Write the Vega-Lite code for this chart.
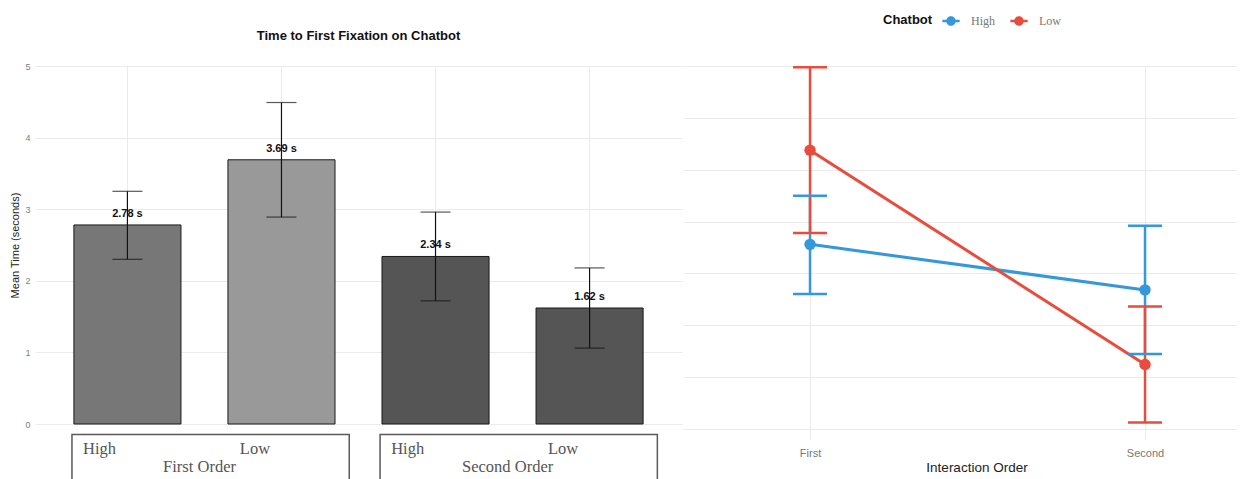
{
  "$schema": "https://vega.github.io/schema/vega-lite/v6.json",
  "background": "white",
  "padding": {"left": 9, "top": 12, "right": 0, "bottom": 0},
  "autosize": {"type": "pad"},
  "config": {
    "view": {"stroke": null},
    "font": "Liberation Sans",
    "axis": {"gridColor": "#ebebeb", "gridWidth": 1}
  },
  "datasets": {
    "fix": [
      {"order": "First", "chatbot": "High", "group": "First High", "mean": 2.78, "lower": 2.30, "upper": 3.25, "label": "2.78 s"},
      {"order": "First", "chatbot": "Low", "group": "First Low", "mean": 3.69, "lower": 2.89, "upper": 4.49, "label": "3.69 s"},
      {"order": "Second", "chatbot": "High", "group": "Second High", "mean": 2.34, "lower": 1.72, "upper": 2.96, "label": "2.34 s"},
      {"order": "Second", "chatbot": "Low", "group": "Second Low", "mean": 1.62, "lower": 1.06, "upper": 2.18, "label": "1.62 s"}
    ],
    "strip": [
      {"order": "First", "heading": "First Order"},
      {"order": "Second", "heading": "Second Order"}
    ]
  },
  "spacing": 1,
  "resolve": {"scale": {"x": "independent", "y": "independent", "color": "independent", "fill": "independent"}},
  "hconcat": [
    {
      "spacing": 4,
      "resolve": {"scale": {"x": "independent", "y": "independent"}},
      "vconcat": [
        {
          "width": 647,
          "height": 358,
          "title": {"text": "Time to First Fixation on Chatbot", "fontSize": 13, "fontWeight": "bold", "color": "#111111", "offset": 19, "anchor": "middle"},
          "data": {"name": "fix"},
          "encoding": {
            "x": {
              "field": "group", "type": "nominal",
              "sort": ["First High", "First Low", "Second High", "Second Low"],
              "scale": {"paddingInner": 0.305, "paddingOuter": 0.2525},
              "axis": {"labels": false, "ticks": false, "domain": false, "title": null, "grid": true}
            }
          },
          "layer": [
            {
              "mark": {"type": "bar", "stroke": "#1a1a1a", "strokeWidth": 1},
              "encoding": {
                "y": {
                  "field": "mean", "type": "quantitative", "title": "Mean Time (seconds)",
                  "scale": {"domain": [0, 5], "nice": false},
                  "axis": {
                    "values": [0, 0.5, 1, 1.5, 2, 2.5, 3, 3.5, 4, 4.5, 5],
                    "labelExpr": "datum.value % 1 === 0 ? format(datum.value, 'd') : ''",
                    "ticks": false, "domain": false, "grid": true,
                    "labelFontSize": 9, "labelColor": "#808080", "labelPadding": 5,
                    "titleFontSize": 11, "titleFontWeight": "normal", "titleColor": "#222222", "titlePadding": 4
                  }
                },
                "fill": {
                  "field": "group", "type": "nominal",
                  "scale": {"domain": ["First High", "First Low", "Second High", "Second Low"], "range": ["#777777", "#999999", "#555555", "#555555"]},
                  "legend": null
                }
              }
            },
            {
              "mark": {"type": "rule", "color": "#111111", "strokeWidth": 1.2},
              "encoding": {
                "y": {"field": "lower", "type": "quantitative", "title": "Mean Time (seconds)"},
                "y2": {"field": "upper"}
              }
            },
            {
              "mark": {"type": "tick", "color": "#111111", "thickness": 1.2, "size": 30, "orient": "horizontal"},
              "encoding": {"y": {"field": "upper", "type": "quantitative", "title": "Mean Time (seconds)"}}
            },
            {
              "mark": {"type": "tick", "color": "#111111", "thickness": 1.2, "size": 30, "orient": "horizontal"},
              "encoding": {"y": {"field": "lower", "type": "quantitative", "title": "Mean Time (seconds)"}}
            },
            {
              "mark": {"type": "text", "fontWeight": "bold", "fontSize": 11, "dy": -8, "baseline": "alphabetic", "color": "#111111"},
              "encoding": {
                "y": {"field": "mean", "type": "quantitative", "title": "Mean Time (seconds)"},
                "text": {"field": "label"}
              }
            }
          ]
        },
        {
          "width": 647,
          "height": 47,
          "encoding": {
            "x": {
              "field": "order", "type": "nominal",
              "scale": {"domain": ["First", "Second"], "paddingInner": 0.1, "paddingOuter": 0.1, "align": 0.6},
              "axis": null
            }
          },
          "layer": [
            {
              "data": {"name": "strip"},
              "mark": {"type": "bar", "fill": "white", "stroke": "#5a5a5a", "strokeWidth": 1.5, "clip": true},
              "encoding": {
                "y": {"datum": 0.97, "type": "quantitative", "scale": {"domain": [0, 1], "nice": false, "zero": false}, "axis": null},
                "y2": {"datum": -1}
              }
            },
            {
              "data": {"name": "fix"},
              "transform": [{"filter": "datum.chatbot === 'High'"}],
              "mark": {"type": "text", "align": "left", "baseline": "middle", "font": "Liberation Serif", "fontSize": 16.5, "color": "#555555"},
              "encoding": {
                "x": {"field": "order", "type": "nominal", "bandPosition": 0.04},
                "y": {"datum": 0.66, "type": "quantitative"},
                "text": {"field": "chatbot"}
              }
            },
            {
              "data": {"name": "fix"},
              "transform": [{"filter": "datum.chatbot === 'Low'"}],
              "mark": {"type": "text", "align": "center", "baseline": "middle", "font": "Liberation Serif", "fontSize": 16.5, "color": "#555555"},
              "encoding": {
                "x": {"field": "order", "type": "nominal", "bandPosition": 0.66},
                "y": {"datum": 0.66, "type": "quantitative"},
                "text": {"field": "chatbot"}
              }
            },
            {
              "data": {"name": "strip"},
              "mark": {"type": "text", "align": "center", "baseline": "middle", "font": "Liberation Serif", "fontSize": 16.5, "color": "#555555"},
              "encoding": {
                "x": {"field": "order", "type": "nominal", "bandPosition": 0.46},
                "y": {"datum": 0.277, "type": "quantitative"},
                "text": {"field": "heading"}
              }
            }
          ]
        }
      ]
    },
    {
      "width": 554,
      "height": 374,
      "data": {"name": "fix"},
      "encoding": {
        "x": {
          "field": "order", "type": "nominal", "title": "Interaction Order",
          "scale": {"type": "point", "domain": ["First", "Second"], "padding": 0.3269, "align": 0.58},
          "axis": {
            "labelAngle": 0, "ticks": false, "domain": false, "grid": true,
            "labelFontSize": 11, "labelColor": "#777777", "labelPadding": 7,
            "titleFontSize": 13.5, "titleFontWeight": "normal", "titleColor": "#222222", "titlePadding": 2,
            "titleX": 293.5
          }
        },
        "color": {
          "field": "chatbot", "type": "nominal", "title": "Chatbot",
          "scale": {"domain": ["High", "Low"], "range": ["#3498DB", "#E74C3C"]},
          "legend": {
            "orient": "none", "legendX": 200, "legendY": -54,
            "direction": "horizontal", "titleOrient": "left",
            "titleFontSize": 13, "titleFontWeight": "bold", "titleColor": "#111111", "titlePadding": 9,
            "labelFont": "Liberation Serif", "labelFontSize": 12, "labelColor": "#777777", "labelOffset": 11,
            "columnPadding": 15,
            "symbolType": "M-1,-0.13L1,-0.13L1,0.13L-1,0.13Z M0.55,0A0.55,0.55,0,1,1,-0.55,0A0.55,0.55,0,1,1,0.55,0Z",
            "symbolSize": 300, "symbolStrokeWidth": 0, "symbolOpacity": 1
          }
        }
      },
      "layer": [
        {
          "mark": {"type": "line", "strokeWidth": 3},
          "encoding": {
            "y": {
              "field": "mean", "type": "quantitative", "title": null,
              "scale": {"domain": [0.89, 4.503], "nice": false, "zero": false},
              "axis": {"values": [1, 1.5, 2, 2.5, 3, 3.5, 4, 4.5], "labels": false, "ticks": false, "domain": false, "grid": true, "title": null}
            }
          }
        },
        {
          "mark": {"type": "rule", "strokeWidth": 2.5},
          "encoding": {
            "y": {"field": "lower", "type": "quantitative", "title": null},
            "y2": {"field": "upper"}
          }
        },
        {
          "mark": {"type": "tick", "thickness": 2.5, "size": 34, "orient": "horizontal", "opacity": 1},
          "encoding": {"y": {"field": "upper", "type": "quantitative", "title": null}}
        },
        {
          "mark": {"type": "tick", "thickness": 2.5, "size": 34, "orient": "horizontal", "opacity": 1},
          "encoding": {"y": {"field": "lower", "type": "quantitative", "title": null}}
        },
        {
          "mark": {"type": "point", "filled": true, "size": 130, "opacity": 1},
          "encoding": {"y": {"field": "mean", "type": "quantitative", "title": null}}
        }
      ]
    }
  ]
}
